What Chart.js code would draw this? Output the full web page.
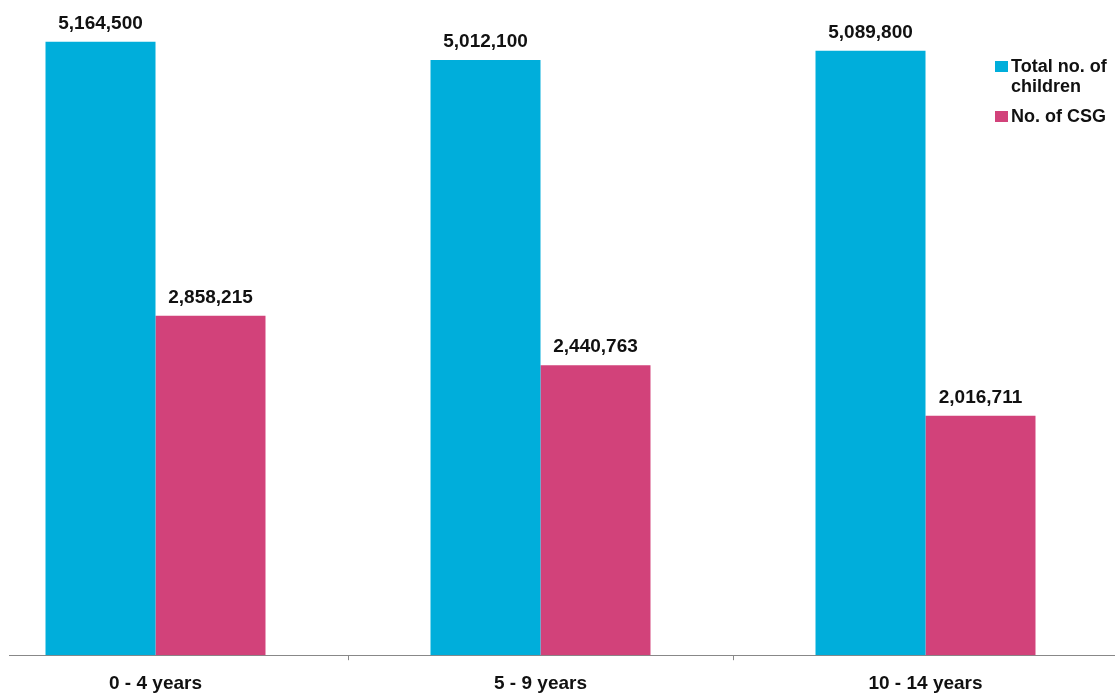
<!DOCTYPE html>
<html>
<head>
<meta charset="utf-8">
<script src="https://cdn.jsdelivr.net/npm/chart.js@4"></script>
<style>
  html, body { margin: 0; padding: 0; background: #fff; overflow: hidden; }
  #wrap { position: relative; width: 1115px; height: 696px; overflow: hidden; }
  #box { position: absolute; left: -37px; top: 0; width: 1155px; height: 707px; }
  #legend { position: absolute; left: 995px; top: 56px; font-family: "Liberation Sans", Arial, sans-serif; font-weight: bold; font-size: 18px; color: #111; line-height: 20px; }
  #legend .row { display: flex; align-items: flex-start; margin-bottom: 10px; }
  #legend .sw { width: 13px; height: 11px; margin-top: 5px; margin-right: 3px; flex: none; }
</style>
</head>
<body>
<div id="wrap">
  <div id="box"><canvas id="canvas"></canvas></div>
  <div id="legend"></div>
</div>
<script>
var categories = ["0 - 4 years", "5 - 9 years", "10 - 14 years"];
var totalChildren = [5164500, 5012100, 5089800];
var csgCount = [2858215, 2440763, 2016711];
var seriesNames = [["Total no. of", "children"], ["No. of CSG"]];
var seriesColors = ["#00AEDB", "#D2427A"];

// legend on the right, two lines for the first entry
var legend = document.getElementById('legend');
seriesNames.forEach(function(name, i){
    var row = document.createElement('div');
    row.className = 'row';
    row.innerHTML = '<div class="sw" style="background:' + seriesColors[i] + '"></div><div>' + name.join('<br>') + '</div>';
    legend.appendChild(row);
});

// value above each bar
const barValues = {
    id: 'barValues',
    afterDatasetsDraw: function(chart){
        var ctx = chart.ctx;
        ctx.save();
        ctx.font = 'bold 19px "Liberation Sans", Arial, sans-serif';
        ctx.fillStyle = '#111';
        ctx.textAlign = 'center';
        ctx.textBaseline = 'alphabetic';
        chart.data.datasets.forEach(function(ds, i){
            chart.getDatasetMeta(i).data.forEach(function(bar, j){
                ctx.fillText(ds.data[j].toLocaleString('en-US'), bar.x, bar.y - 13);
            });
        });
        ctx.restore();
    },
    afterDraw: function(chart){
        // axis line starts a little in from the left edge
        var b = chart.chartArea.bottom;
        chart.ctx.clearRect(0, b - 3, 46, 6);
    }
};

const ctx = document.getElementById('canvas').getContext('2d');
const myChart = new Chart(ctx, {
    type: 'bar',
    data: {
        labels: categories,
        datasets: [{
            label: seriesNames[0].join(' '),
            data: totalChildren,
            backgroundColor: seriesColors[0]
        }, {
            label: seriesNames[1].join(' '),
            data: csgCount,
            backgroundColor: seriesColors[1]
        }]
    },
    options: {
        responsive: true,
        maintainAspectRatio: false,
        animation: false,
        layout: { padding: { top: 2, left: 0, right: 0, bottom: 0 } },
        datasets: {
            bar: { categoryPercentage: 0.5714, barPercentage: 1.0 }
        },
        scales: {
            x: {
                grid: { display: true, drawOnChartArea: false, drawTicks: true, tickLength: 5, color: '#888', offset: true },
                border: { display: true, color: '#888', width: 1 },
                ticks: {
                    color: '#111',
                    padding: 12,
                    font: { family: '"Liberation Sans", Arial, sans-serif', size: 19, weight: 'bold' }
                }
            },
            y: {
                display: false,
                min: 0,
                max: 5500000
            }
        },
        plugins: {
            legend: { display: false },
            tooltip: { enabled: false }
        }
    },
    plugins: [barValues]
});
</script>
</body>
</html>
